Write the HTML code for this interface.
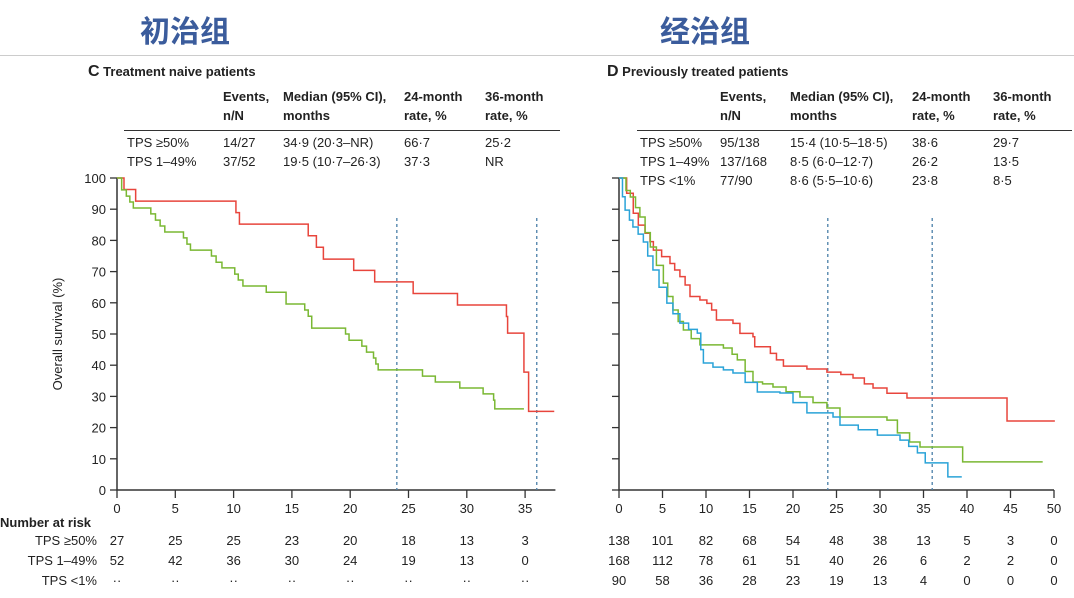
<!DOCTYPE html>
<html><head><meta charset="utf-8"><style>
body{margin:0;background:#fff;}
svg{display:block;font-family:"Liberation Sans","Noto Sans CJK SC",sans-serif;}
.t{font-size:13px;fill:#222;}
.b{font-weight:bold;}
</style></head><body>
<svg id="s" width="1074" height="598" viewBox="0 0 1074 598">
<text x="185" y="42" text-anchor="middle" font-size="30" font-weight="bold" fill="#3b5c9c" font-family="Noto Sans CJK SC, sans-serif">初治组</text>
<text x="705" y="42" text-anchor="middle" font-size="30" font-weight="bold" fill="#3b5c9c" font-family="Noto Sans CJK SC, sans-serif">经治组</text>
<line x1="0" y1="55.5" x2="1074" y2="55.5" stroke="#ccc"/>
<g id="L"></g>
<g id="R"></g>
</svg>
<script>
// Panel C data
const cRedPts=[[0,100],[0.6,96.3],[1.6,92.6],[10.2,88.9],[10.5,85.2],[16.4,81.5],[17.1,77.8],[17.7,74],[20.3,70.4],[22.1,66.7],[25.4,63],[29.2,59.3],[33.4,55.6],[33.5,50.3],[34.9,37.8],[35.3,25.2]];
const cRedEnd=37.5;
const cGreenPts=[[0,100],[0.4,96.2],[0.8,94.2],[1.1,92.3],[1.4,90.4],[2.9,88.5],[3.3,86.5],[3.7,84.6],[4.1,82.7],[5.7,80.8],[6,78.8],[6.3,76.9],[8.1,75],[8.5,73],[9,71.2],[10.1,69.2],[10.4,67.3],[10.8,65.4],[12.8,63.4],[14.5,59.6],[16.1,57.7],[16.4,55.7],[16.7,51.9],[19.6,50],[19.9,48],[21,46.1],[21.4,44.2],[22,42.3],[22.2,40.4],[22.4,38.5],[26.2,36.5],[27.3,34.6],[29.4,32.7],[31.4,30.8],[32.3,28.8],[32.4,26]];
const cGreenEnd=34.9;
const cXTicks=[0,5,10,15,20,25,30,35];
const cYTicks=[0,10,20,30,40,50,60,70,80,90,100];
const cRisk50=["27","25","25","23","20","18","13","3"];
const cRisk149=["52","42","36","30","24","19","13","0"];
const cRisk1=["··","··","··","··","··","··","··","··"];
// Panel D data
const dRedPts=[[0,100],[0.88,95.1],[1.64,88.7],[2.22,84.9],[2.99,82.3],[3.56,79.6],[3.95,76.9],[4.9,74.8],[5.86,72.6],[6.4,70.5],[7.0,68.4],[7.6,65.7],[8.16,62],[9.3,60.9],[10.1,59.8],[10.65,57.7],[11.2,54.5],[13.1,53.4],[13.9,50.2],[15.4,49.1],[15.6,45.9],[17.4,43.8],[18.1,41.7],[18.9,39.7],[21.6,38.8],[23.9,37.8],[25.5,37],[26.9,35.9],[28.2,34],[29.2,32.7],[30.8,31],[33.1,29.5],[44.6,22.1]];
const dRedEnd=50.1;
const dGreenPts=[[0,100],[0.8,96],[1.3,93.9],[1.9,90.5],[2.4,87.5],[3.0,82.5],[3.6,77.9],[4.3,72],[5.1,66.3],[5.6,62],[6.2,57.7],[6.8,54],[7.4,51.3],[8.3,48.5],[9.3,46.5],[12,45.5],[13.0,43.5],[13.6,41.7],[14.5,38],[15.4,34.6],[16.5,34],[17.7,33],[19.2,31.5],[20.8,29.8],[22.3,28],[23.9,26.3],[25.4,23.4],[30.8,22.4],[32,18.3],[33.4,15.4],[34.6,13.8],[39.5,9]];
const dGreenEnd=48.7;
const dBluePts=[[0,100],[0.4,94],[0.7,89.7],[1.2,86.5],[1.6,84.3],[2.2,82],[2.8,79.5],[3.3,75],[3.9,70.5],[4.6,65],[5.5,59.9],[6.2,56.5],[7,53.5],[8,51.5],[9,50.3],[9.4,45],[9.7,40.7],[10.8,39.4],[12,38.5],[13.1,37.5],[14.5,34.5],[15.9,31.4],[18.5,31.1],[20,28],[21.6,24.7],[24.6,23.4],[25.4,20.8],[27.5,19.3],[29.7,17.6],[32.3,16],[33.3,14],[34.3,11.9],[35.2,8.7],[37.8,4.2]];
const dBlueEnd=39.4;
const dXTicks=[0,5,10,15,20,25,30,35,40,45,50];
const dRisk50=["138","101","82","68","54","48","38","13","5","3","0"];
const dRisk149=["168","112","78","61","51","40","26","6","2","2","0"];
const dRisk1=["90","58","36","28","23","19","13","4","0","0","0"];

const NS="http://www.w3.org/2000/svg";
function mk(p,tag,a,txt){const e=document.createElementNS(NS,tag);for(const k in a)e.setAttribute(k,a[k]);if(txt!==undefined)e.textContent=txt;p.appendChild(e);return e;}
const y=v=>490-v*3.12;
function stepPath(pts,end,x){let d="M"+x(pts[0][0])+","+y(pts[0][1]);for(let i=1;i<pts.length;i++){d+="H"+x(pts[i][0])+"V"+y(pts[i][1]);}d+="H"+x(end);return d;}

function panel(g,o){
  const x=o.x;
  let t=mk(g,"text",{x:o.lx,y:76,"font-size":"14","class":"t b"});
  
  
  t.innerHTML='<tspan font-size="16">'+o.letter+'</tspan>  '+o.title;
  const hy=[101,120];
  o.cols.forEach((c,i)=>{if(i===0)return;o.head[i].forEach((h,j)=>{const e=mk(g,"text",{x:c,y:hy[j],"class":"t b"},h);
    
    });});
  const ln=mk(g,"line",{x1:o.cols[0]-3,y1:130.5,x2:o.lineEnd,y2:130.5,stroke:"#333","stroke-width":"1"});
  
  
  o.rows.forEach((r,ri)=>{r.forEach((v,ci)=>{const e=mk(g,"text",{x:o.cols[ci],y:147+ri*19,"class":"t"},v);
    
    });});
  const ax=mk(g,"path",{d:"M"+x(0)+",178V490H"+x(o.xmax),stroke:"#333",fill:"none","stroke-width":"1.5"});
  
  
  cYTicks.forEach(v=>{const l=mk(g,"line",{x1:x(0)-7,x2:x(0),y1:y(v),y2:y(v),stroke:"#333","stroke-width":"1.3"});
    
    
    if(o.yl){const e=mk(g,"text",{x:x(0)-11,y:y(v)+5,"text-anchor":"end","class":"t"},v);
      
      }});
  o.xt.forEach(v=>{const l=mk(g,"line",{x1:x(v),x2:x(v),y1:490,y2:498,stroke:"#333","stroke-width":"1.3"});
    
    
    const e=mk(g,"text",{x:x(v),y:513,"text-anchor":"middle","class":"t"},v);
    
    });
  [24,36].forEach(v=>{const l=mk(g,"line",{x1:x(v),x2:x(v),y1:218,y2:490,stroke:"#4a7fa8","stroke-width":"1.3","stroke-dasharray":"3,3"});
    
    });
  o.series.forEach(s=>{const p=mk(g,"path",{d:stepPath(s.pts,s.end,x),stroke:s.c,fill:"none","stroke-width":"1.5"});
    
    });
  o.risk.forEach((r,ri)=>{r.forEach((v,i)=>{const e=mk(g,"text",{x:x(o.xt[i]),y:545+ri*20,"text-anchor":"middle","class":"t"},v);
    
    });});
}
const L=document.getElementById("L"),R=document.getElementById("R");
const xL=m=>117+m*11.66, xR=m=>619+m*8.7;
panel(L,{x:xL,xmax:37.6,letter:"C",title:"Treatment naive patients",lx:88,cols:[127,223,283,404,485],lineEnd:560,
 head:[[],["Events,","n/N"],["Median (95% CI),","months"],["24-month","rate, %"],["36-month","rate, %"]],
 rows:[["TPS ≥50%","14/27","34·9 (20·3–NR)","66·7","25·2"],["TPS 1–49%","37/52","19·5 (10·7–26·3)","37·3","NR"]],
 xt:cXTicks,yl:true,series:[{pts:cRedPts,end:cRedEnd,c:"#e8453c",n:"tps50-curve"},{pts:cGreenPts,end:cGreenEnd,c:"#7ab833",n:"tps1-49-curve"}],
 risk:[cRisk50,cRisk149,cRisk1]});
panel(R,{x:xR,xmax:50,letter:"D",title:"Previously treated patients",lx:607,cols:[640,720,790,912,993],lineEnd:1072,
 head:[[],["Events,","n/N"],["Median (95% CI),","months"],["24-month","rate, %"],["36-month","rate, %"]],
 rows:[["TPS ≥50%","95/138","15·4 (10·5–18·5)","38·6","29·7"],["TPS 1–49%","137/168","8·5 (6·0–12·7)","26·2","13·5"],["TPS <1%","77/90","8·6 (5·5–10·6)","23·8","  8·5"]],
 xt:dXTicks,yl:false,series:[{pts:dRedPts,end:dRedEnd,c:"#e8453c",n:"tps50-curve"},{pts:dGreenPts,end:dGreenEnd,c:"#7ab833",n:"tps1-49-curve"},{pts:dBluePts,end:dBlueEnd,c:"#2aa3d8",n:"tps-lt1-curve"}],
 risk:[dRisk50,dRisk149,dRisk1]});
const s=document.getElementById("s");
let e=mk(s,"text",{x:62,y:334,"text-anchor":"middle","class":"t",transform:"rotate(-90 62 334)"},"Overall survival (%)");


e=mk(s,"text",{x:0,y:527,"class":"t b"},"Number at risk");


["TPS ≥50%","TPS 1–49%","TPS <1%"].forEach((v,i)=>{const t=mk(s,"text",{x:97,y:545+i*20,"text-anchor":"end","class":"t"},v);
  
  });
</script>
</body></html>
